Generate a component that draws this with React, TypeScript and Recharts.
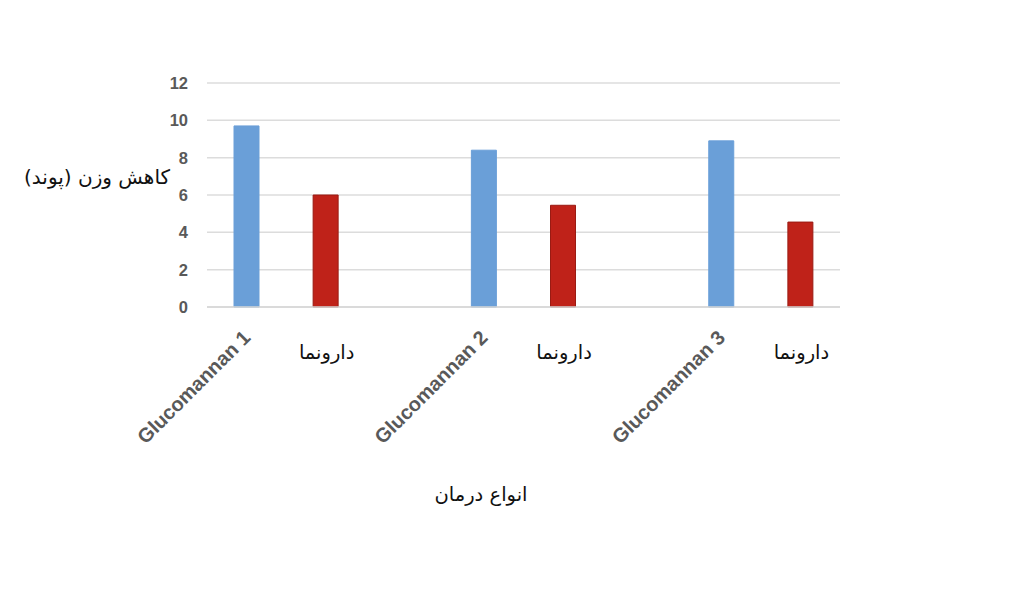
import React from 'react';
import { BarChart, Bar, XAxis, YAxis, CartesianGrid, Cell } from 'recharts';

const categories = ['Glucomannan 1', 'دارونما', '', 'Glucomannan 2', 'دارونما', '', 'Glucomannan 3', 'دارونما'];
const groups = ['glucomannan', 'placebo', 'gap', 'glucomannan', 'placebo', 'gap', 'glucomannan', 'placebo'];
const weightLoss = [9.7, 6.0, null, 8.4, 5.45, null, 8.9, 4.55];
const yTicks = [0, 2, 4, 6, 8, 10, 12];
const yAxisTitle = 'کاهش وزن (پوند)';
const xAxisTitle = 'انواع درمان';

const data = categories.map((name, i) => ({ key: `c${i}`, name, group: groups[i], value: weightLoss[i] }));

const BLUE = '#6a9fd8';
const RED = '#bf2219';
const GRAY = '#595959';
const PERSIAN_FONT = '"DejaVu Sans", "Noto Sans", sans-serif';
const LATIN_FONT = '"Liberation Sans", Arial, sans-serif';

const XTick = (props: any) => {
  const { x, y, payload } = props;
  const d = data[payload.index];
  if (!d || !d.name) return null;
  if (d.group === 'glucomannan') {
    return (
      <g transform={`translate(${x + 5},${y + 32})`}>
        <text
          transform="rotate(-45)"
          textAnchor="end"
          fill={GRAY}
          fontFamily={LATIN_FONT}
          fontWeight={700}
          fontSize={20}
        >
          {d.name}
        </text>
      </g>
    );
  }
  return (
    <text x={x + 1} y={y + 52} textAnchor="middle" fill="#111" fontFamily={PERSIAN_FONT} fontSize={19.5}>
      {d.name}
    </text>
  );
};

const YTick = (props: any) => {
  const { x, y, payload } = props;
  return (
    <text x={x} y={y} dy={6} textAnchor="end" fill={GRAY} fontFamily={LATIN_FONT} fontWeight={700} fontSize={16.5}>
      {payload.value}
    </text>
  );
};

const YTitle = (props: any) => {
  const vb = props.viewBox || { x: 0, y: 0 };
  return (
    <text x={vb.x + 162} y={vb.y + 101} textAnchor="end" fill="#111" fontFamily={PERSIAN_FONT} fontSize={20}>
      {yAxisTitle}
    </text>
  );
};

const XTitle = (props: any) => {
  const vb = props.viewBox || { x: 0, y: 0 };
  return (
    <text x={vb.x + 274} y={vb.y + 194} textAnchor="middle" fill="#111" fontFamily={PERSIAN_FONT} fontSize={19.5}>
      {xAxisTitle}
    </text>
  );
};

export default function App() {
  return (
    <div style={{ width: 1008, height: 587, background: '#fff' }}>
      <BarChart
        width={1008}
        height={587}
        data={data}
        margin={{ top: 75, right: 176, left: 0, bottom: 88 }}
        barSize={25}
      >
        <CartesianGrid vertical={false} stroke="#dcdcdc" strokeWidth={1.5} />
        <XAxis
          dataKey="key"
          height={200}
          interval={0}
          tickLine={false}
          axisLine={{ stroke: '#d6d6d6', strokeWidth: 1.5 }}
          tickSize={0}
          tickMargin={0}
          tick={<XTick />}
          label={<XTitle />}
        />
        <YAxis
          width={199}
          domain={[0, 12]}
          ticks={yTicks}
          interval={0}
          axisLine={false}
          tickLine={false}
          tickSize={0}
          tickMargin={19}
          tick={<YTick />}
          label={<YTitle />}
        />
        <Bar dataKey="value" isAnimationActive={false}>
          {data.map((d) => (
            <Cell
              key={d.key}
              fill={d.group === 'placebo' ? RED : BLUE}
              stroke={d.group === 'placebo' ? '#9a1b13' : BLUE}
              strokeWidth={1}
            />
          ))}
        </Bar>
      </BarChart>
    </div>
  );
}
